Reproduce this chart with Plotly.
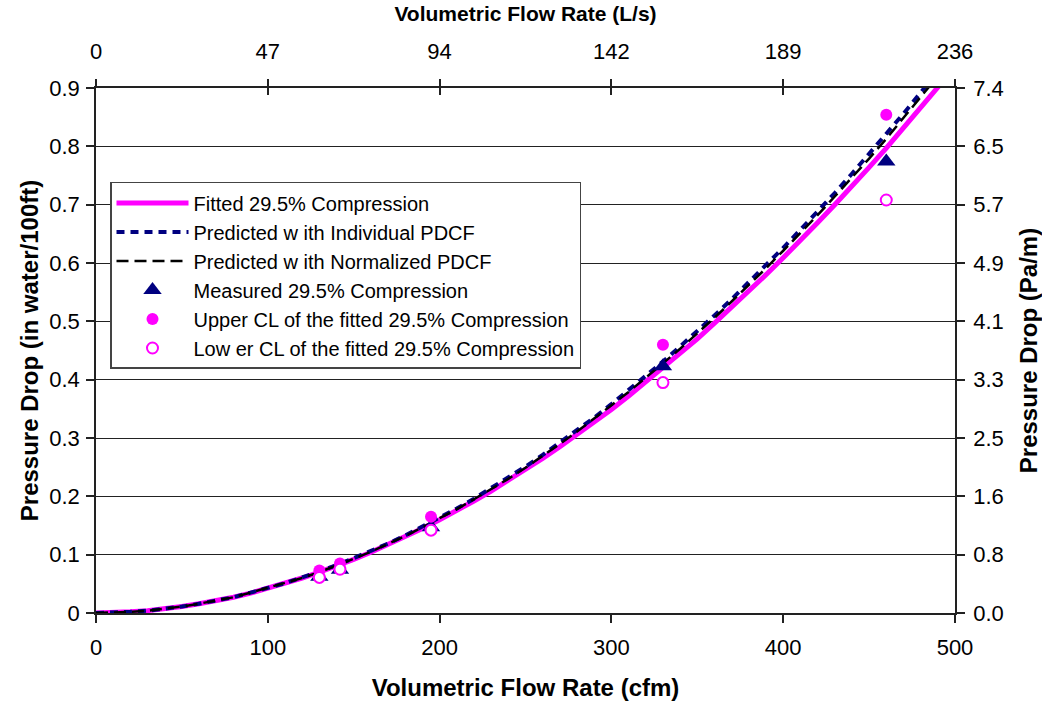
import plotly.graph_objects as go

# ---- data ----
flow_cfm = [0, 10, 20, 30, 40, 50, 60, 70, 80, 90, 100, 110, 120, 130, 140, 150, 160, 170, 180, 190,
            200, 210, 220, 230, 240, 250, 260, 270, 280, 290, 300, 310, 320, 330, 340, 350, 360, 370,
            380, 390, 400, 410, 420, 430, 440, 450, 460, 470, 480, 490, 500]
fitted = [0, 0.0005, 0.002, 0.004, 0.007, 0.011, 0.016, 0.021, 0.027, 0.034, 0.042, 0.050, 0.060,
          0.070, 0.080, 0.092, 0.104, 0.117, 0.130, 0.145, 0.160, 0.175, 0.192, 0.209, 0.227, 0.246,
          0.265, 0.285, 0.306, 0.327, 0.349, 0.372, 0.396, 0.420, 0.445, 0.470, 0.497, 0.524, 0.551,
          0.580, 0.609, 0.638, 0.669, 0.700, 0.731, 0.764, 0.797, 0.831, 0.865, 0.900, 0.936]
pred_individual = [0, 0.0005, 0.002, 0.004, 0.007, 0.011, 0.016, 0.021, 0.027, 0.035, 0.043, 0.051,
                   0.061, 0.071, 0.082, 0.094, 0.106, 0.119, 0.133, 0.148, 0.163, 0.179, 0.196, 0.214,
                   0.232, 0.251, 0.271, 0.292, 0.313, 0.335, 0.358, 0.382, 0.406, 0.431, 0.457, 0.483,
                   0.510, 0.538, 0.567, 0.596, 0.626, 0.657, 0.688, 0.720, 0.753, 0.787, 0.821, 0.856,
                   0.892, 0.929, 0.966]
pred_normalized = [0, 0.0005, 0.002, 0.004, 0.007, 0.011, 0.016, 0.021, 0.027, 0.035, 0.043, 0.051,
                   0.060, 0.070, 0.081, 0.093, 0.105, 0.118, 0.132, 0.147, 0.162, 0.178, 0.195, 0.212,
                   0.230, 0.249, 0.269, 0.290, 0.311, 0.333, 0.356, 0.379, 0.403, 0.428, 0.453, 0.479,
                   0.506, 0.534, 0.562, 0.591, 0.621, 0.651, 0.682, 0.714, 0.746, 0.779, 0.813, 0.848,
                   0.883, 0.919, 0.956]

meas_cfm = [130, 142, 195, 330, 460]
measured = [0.062, 0.074, 0.147, 0.423, 0.774]
upper_cl = [0.073, 0.085, 0.165, 0.460, 0.854]
lower_cl = [0.061, 0.075, 0.142, 0.395, 0.708]

bottom_ticks = [0, 100, 200, 300, 400, 500]
top_tick_labels = ["0", "47", "94", "142", "189", "236"]
left_ticks = [0, 0.1, 0.2, 0.3, 0.4, 0.5, 0.6, 0.7, 0.8, 0.9]
left_tick_labels = ["0", "0.1", "0.2", "0.3", "0.4", "0.5", "0.6", "0.7", "0.8", "0.9"]
right_tick_labels = ["0.0", "0.8", "1.6", "2.5", "3.3", "4.1", "4.9", "5.7", "6.5", "7.4"]

FONT = "Liberation Sans, Arial, sans-serif"
MAGENTA = "#FF00FF"
NAVY = "#000080"
AX = "#222222"

fig = go.Figure()
fig.add_trace(go.Scatter(x=flow_cfm, y=fitted, mode="lines", name="Fitted 29.5% Compression",
                         line=dict(color=MAGENTA, width=5), legendgroup="a"))
fig.add_trace(go.Scatter(x=flow_cfm, y=pred_individual, mode="lines", name="Predicted w ith Individual PDCF",
                         line=dict(color=NAVY, width=4, dash="8px,6px"), legendgroup="b"))
fig.add_trace(go.Scatter(x=flow_cfm, y=pred_normalized, mode="lines", name="Predicted w ith Normalized PDCF",
                         line=dict(color="black", width=2.5, dash="12px,6px"), legendgroup="c"))
fig.add_trace(go.Scatter(x=meas_cfm, y=measured, mode="markers", name="Measured 29.5% Compression",
                         marker=dict(symbol="triangle-up", size=16, color=NAVY), legendgroup="d"))
fig.add_trace(go.Scatter(x=meas_cfm, y=upper_cl, mode="markers", name="Upper CL of the fitted 29.5% Compression",
                         marker=dict(symbol="circle", size=12, color=MAGENTA), legendgroup="e"))
fig.add_trace(go.Scatter(x=meas_cfm, y=lower_cl, mode="markers", name="Low er CL of the fitted 29.5% Compression",
                         marker=dict(symbol="circle", size=11, color="white",
                                     line=dict(color=MAGENTA, width=2)), legendgroup="f"))
# invisible traces carrying the secondary axes
fig.add_trace(go.Scatter(x=[0, 500], y=[0, 0.9], xaxis="x2", yaxis="y2", mode="markers",
                         marker=dict(opacity=0), showlegend=False, hoverinfo="skip"))
fig.add_trace(go.Scatter(x=[0, 500], y=[0, 0.9], xaxis="x3", yaxis="y", mode="markers",
                         marker=dict(opacity=0), showlegend=False, hoverinfo="skip"))

TICKFONT = dict(family=FONT, size=22, color="black")
TITLEFONT = dict(family=FONT, size=24, color="black")

fig.update_layout(
    width=1042, height=704,
    margin=dict(l=96, r=87, t=88, b=91, autoexpand=False),
    paper_bgcolor="white", plot_bgcolor="white",
    font=dict(family=FONT, color="black"),
    xaxis=dict(range=[0, 500], tickvals=bottom_ticks, showgrid=False, zeroline=False, automargin=False,
               showline=True, linecolor=AX, linewidth=1.5,
               ticks="outside", ticklen=8, tickcolor=AX, tickwidth=1.5,
               tickfont=TICKFONT, ticklabelstandoff=6,
               title=dict(text="<b>Volumetric Flow Rate (cfm)</b>", font=TITLEFONT, standoff=20)),
    xaxis2=dict(range=[0, 500], overlaying="x", side="top", tickvals=bottom_ticks, ticktext=top_tick_labels,
                showgrid=False, zeroline=False, showline=True, linecolor=AX, linewidth=1.5, automargin=False,
                ticks="outside", ticklen=7, tickcolor=AX, tickwidth=1.5,
                tickfont=TICKFONT, ticklabelstandoff=11,
                title=dict(text="<b>Volumetric Flow Rate (L/s)</b>", font=dict(family=FONT, size=21, color="black"),
                           standoff=12)),
    xaxis3=dict(range=[0, 500], overlaying="x", side="top", tickvals=bottom_ticks, showticklabels=False,
                showgrid=False, zeroline=False, showline=False, automargin=False,
                ticks="inside", ticklen=7, tickcolor=AX, tickwidth=1.5),
    yaxis=dict(range=[0, 0.9], tickvals=left_ticks, ticktext=left_tick_labels, showgrid=True,
               gridcolor=AX, gridwidth=1.2, zeroline=False, automargin=False,
               showline=True, linecolor=AX, linewidth=1.5,
               ticks="outside", ticklen=8, tickcolor=AX, tickwidth=1.5,
               tickfont=TICKFONT, ticklabelstandoff=2,
               title=dict(text="<b>Pressure Drop (in water/100ft)</b>", font=TITLEFONT, standoff=4)),
    yaxis2=dict(range=[0, 0.9], overlaying="y", side="right", tickvals=left_ticks, ticktext=right_tick_labels,
                showgrid=False, zeroline=False, showline=True, linecolor=AX, linewidth=1.5, automargin=False,
                ticks="outside", ticklen=8, tickcolor=AX, tickwidth=1.5,
                tickfont=TICKFONT, ticklabelstandoff=4,
                title=dict(text="<b>Pressure Drop (Pa/m)</b>", font=TITLEFONT, standoff=17)),
    legend=dict(x=0.0163, y=0.821, xanchor="left", yanchor="top", bgcolor="white",
                bordercolor="#444", borderwidth=1.5, font=dict(family=FONT, size=20, color="black"),
                itemwidth=72, tracegroupgap=8, traceorder="normal"),
    showlegend=True,
)

fig.write_html("out.html")
